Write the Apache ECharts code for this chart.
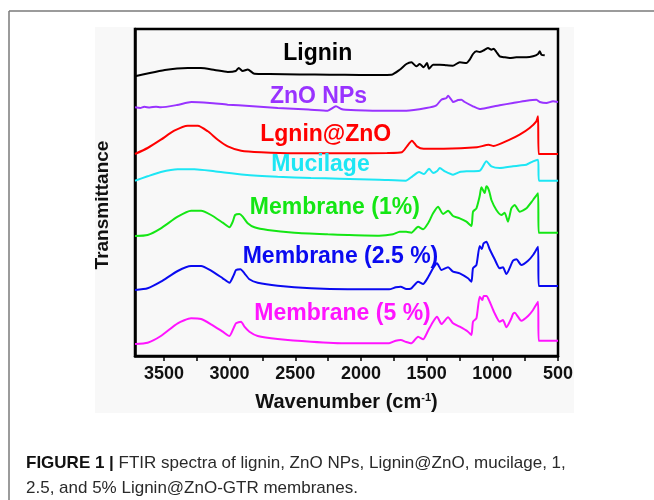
<!DOCTYPE html>
<html>
<head>
<meta charset="utf-8">
<script src="https://cdn.jsdelivr.net/npm/echarts@6/dist/echarts.min.js"></script>
<style>
  html, body { margin: 0; padding: 0; background: #fff; }
  #main { width: 654px; height: 500px; }
</style>
</head>
<body>
<div id="main"></div>
<script>
var myChart = echarts.init(document.getElementById('main'));

// x ticks (wavenumber, cm-1)
var tickLabels = [3500, 3000, 2500, 2000, 1500, 1000, 500];

// curve names as printed on the plot
var names = ['Lignin', 'ZnO NPs', 'Lgnin@ZnO', 'Mucilage', 'Membrane (1%)', 'Membrane (2.5 %)', 'Membrane (5 %)'];

// [wavenumber, offset transmittance (a.u.)]
var lignin = [
  [3720, 279.7], [3607, 283], [3493, 286], [3400, 287.5], [3318, 288], [3219, 288], [3113, 286],
  [3014, 284], [2953, 285], [2930, 288], [2900, 285], [2862, 286.5], [2811, 282.3], [2694, 282],
  [2466, 281.5], [2238, 281.3], [2010, 281], [1768, 281.3], [1705, 286.3], [1654, 292], [1616, 293.7],
  [1578, 289.7], [1553, 292], [1522, 288.7], [1497, 293], [1482, 287.3], [1451, 291.3], [1400, 291.3],
  [1349, 290.7], [1301, 290.3], [1248, 293.7], [1197, 293], [1172, 296.3], [1147, 302], [1121, 304.7],
  [1096, 304], [1071, 305.3], [1033, 308], [1007, 306.3], [989, 307.3], [969, 304], [944, 299.7],
  [906, 298.7], [868, 298], [817, 298.7], [740, 298.7], [690, 299.7], [652, 302], [639, 304.7],
  [626, 301.3], [601, 300.7]
];
var znoNps = [
  [3720, 248.7], [3680, 248], [3650, 249.2], [3607, 248.5], [3560, 249.3], [3525, 248.7], [3400, 251],
  [3290, 254], [3150, 253], [3014, 251.3], [2850, 250], [2633, 248], [2400, 246.5], [2253, 245.3],
  [2190, 249.7], [2150, 247], [2116, 246.3], [1862, 245.3], [1654, 245.3], [1502, 248], [1426, 250.7],
  [1388, 256.3], [1349, 258], [1337, 260.3], [1305, 255], [1299, 254], [1260, 256], [1235, 256.3],
  [1210, 254], [1147, 249.7], [1096, 247], [1045, 248], [944, 250.7], [843, 253], [740, 255.3],
  [664, 256.3], [639, 254], [588, 253], [538, 254.7], [500, 254]
];
var lgZno = [
  [3720, 202], [3624, 208], [3523, 216.3], [3421, 225.3], [3318, 230.3], [3242, 230.3], [3166, 224.7],
  [3090, 216.3], [3014, 209.7], [2912, 205.3], [2760, 203.7], [2506, 202.7], [2100, 202.7], [1800, 203],
  [1689, 203.7], [1650, 209.7], [1612, 215.3], [1574, 209.7], [1523, 207.3], [1370, 207.3], [1117, 208.7],
  [1028, 211.3], [990, 210], [868, 216.3], [792, 221.3], [716, 228], [665, 234.7], [652, 239.7],
  [647, 202], [500, 202]
];
var mucilage = [
  [3720, 175.3], [3624, 179.7], [3523, 184], [3395, 186.7], [3268, 186.7], [3116, 184.7], [2888, 181.3],
  [2634, 179.3], [2380, 178], [2162, 177.3], [1862, 176.3], [1659, 175.3], [1608, 179.7], [1558, 184],
  [1520, 182], [1482, 187.3], [1450, 183], [1420, 185], [1400, 188], [1362, 184.7], [1299, 181.3],
  [1248, 184], [1197, 184.7], [1096, 185.3], [1045, 194.7], [1007, 189.7], [944, 188], [843, 189.7],
  [792, 190.5], [741, 191.3], [690, 194.7], [652, 196.3], [645, 175.3], [500, 175.3]
];
var membrane1 = [
  [3720, 120], [3624, 121], [3523, 127.7], [3395, 139.3], [3293, 145.3], [3217, 145.3], [3141, 141],
  [3052, 133.3], [3001, 128.7], [2976, 134.3], [2958, 141], [2925, 142], [2900, 139.3], [2862, 132.7],
  [2811, 128.7], [2710, 126], [2507, 123.3], [2253, 121.7], [2100, 121], [1862, 120.3], [1756, 121.7],
  [1705, 124.3], [1655, 124.3], [1616, 123.3], [1565, 129.3], [1527, 126.7], [1489, 132.7], [1451, 142.7],
  [1413, 149.3], [1375, 142], [1337, 145.3], [1299, 140], [1248, 137.7], [1197, 134.3], [1159, 130],
  [1147, 144.3], [1121, 147.7], [1096, 160], [1083, 168.7], [1058, 163], [1045, 169.7], [1033, 168],
  [1020, 163], [1007, 156], [969, 146], [931, 141], [906, 143.3], [881, 134.3], [855, 147.7], [830, 151],
  [791, 144.3], [740, 147.7], [690, 156], [652, 162.7], [647, 123.3], [500, 123.3]
];
var membrane25 = [
  [3720, 66], [3624, 67.7], [3523, 74.3], [3395, 85], [3293, 90], [3217, 90], [3141, 85.3], [3052, 77.7],
  [3001, 73.3], [2968, 81], [2951, 86], [2917, 86.7], [2887, 82.7], [2849, 76.7], [2786, 73.3],
  [2634, 70.3], [2380, 67.7], [2100, 66.7], [1786, 66.7], [1735, 68.7], [1697, 69.3], [1655, 67],
  [1616, 67.7], [1565, 74.3], [1527, 72], [1489, 78.7], [1451, 87.7], [1421, 92.7], [1387, 86],
  [1337, 88.7], [1299, 84.3], [1248, 82.7], [1185, 77.7], [1159, 74.3], [1147, 87.7], [1121, 91],
  [1096, 110], [1080, 107], [1066, 112.7], [1045, 114.3], [1020, 106.7], [982, 96.7], [944, 87.7],
  [919, 88.7], [893, 82], [843, 95.3], [817, 96.7], [779, 91], [728, 95.3], [690, 101], [652, 109.3],
  [647, 70], [500, 70]
];
var membrane5 = [
  [3720, 12], [3624, 13.3], [3523, 20], [3395, 32.7], [3293, 37.7], [3217, 37], [3141, 31.7], [3052, 24.3],
  [3001, 20], [2968, 28.3], [2951, 32.7], [2913, 34.3], [2887, 29.3], [2849, 24.3], [2786, 20],
  [2634, 17], [2380, 14.3], [2100, 12.7], [1786, 12.7], [1735, 15.3], [1697, 16], [1655, 14],
  [1616, 12.7], [1565, 19.3], [1527, 16.7], [1489, 25.3], [1451, 34.3], [1421, 39.3], [1387, 32],
  [1337, 38.7], [1299, 32.7], [1248, 29.3], [1185, 24.3], [1159, 21], [1147, 34.3], [1121, 37.7],
  [1096, 59.3], [1076, 56], [1066, 60], [1045, 60], [1020, 54.3], [982, 42.7], [944, 34.3], [919, 36],
  [893, 28.7], [855, 37.7], [843, 42], [830, 43.3], [779, 35.3], [728, 40], [690, 46], [652, 54.3],
  [647, 15.3], [500, 15.3]
];

var curves = [lignin, znoNps, lgZno, mucilage, membrane1, membrane25, membrane5];
var colors = ['#000000', '#9933ff', '#ff0000', '#1de6f4', '#14e614', '#0a0af0', '#ff14ff'];
// where each name sits, in data units
var labelAt = [[2329, 302], [2323, 259.7], [2268, 221.3], [2308, 191.3], [2199, 148.7], [2156, 99.3], [2140, 42]];

var series = curves.map(function (d, i) {
  return {
    name: names[i],
    type: 'line',
    data: d,
    showSymbol: false,
    symbol: 'none',
    smooth: 0.2,
    lineStyle: { color: colors[i], width: 2 },
    markPoint: {
      symbol: 'circle',
      symbolSize: 1,
      itemStyle: { color: 'rgba(0,0,0,0)' },
      label: {
        show: true,
        position: 'inside',
        formatter: names[i],
        color: colors[i],
        fontSize: 23,
        fontWeight: 'bold',
        fontFamily: 'Liberation Sans, Arial'
      },
      data: [{ coord: labelAt[i] }]
    }
  };
});

myChart.setOption({
  animation: false,
  backgroundColor: '#ffffff',
  graphic: [
    { type: 'rect', z: -10, shape: { x: 95, y: 27, width: 479, height: 386 }, style: { fill: '#f8f8f8' } },
    { type: 'line', shape: { x1: 9, y1: 11, x2: 654, y2: 11 }, style: { stroke: '#7a7a7a', lineWidth: 1.5 } },
    { type: 'line', shape: { x1: 9, y1: 11, x2: 9, y2: 500 }, style: { stroke: '#7a7a7a', lineWidth: 1.5 } },
    {
      type: 'text', x: 103, y: 205, rotation: Math.PI / 2,
      style: {
        text: 'Transmittance', fill: '#111', fontSize: 19, fontWeight: 'bold',
        fontFamily: 'Liberation Sans, Arial', align: 'center', verticalAlign: 'middle'
      }
    },
    {
      type: 'text', x: 26, y: 451,
      style: {
        text: '{b|FIGURE 1 |} FTIR spectra of lignin, ZnO NPs, Lignin@ZnO, mucilage, 1,\n2.5, and 5% Lignin@ZnO-GTR membranes.',
        fill: '#2a2a2a', fontSize: 17, lineHeight: 25,
        fontFamily: 'Liberation Sans, Arial',
        rich: {
          b: { fontWeight: 'bold', fontSize: 17, fill: '#111', fontFamily: 'Liberation Sans, Arial', lineHeight: 25 }
        }
      }
    }
  ],
  grid: {
    left: 135, right: 96, top: 29, bottom: 144,
    show: true, borderColor: '#000', borderWidth: 2.5, backgroundColor: 'transparent'
  },
  xAxis: {
    type: 'value',
    inverse: true,
    min: 500,
    max: 3720,
    interval: 250,
    name: '{a|Wavenumber (cm}{s|-1}{a|)}',
    nameLocation: 'middle',
    nameGap: 36,
    nameTextStyle: {
      rich: {
        a: { fontSize: 20, fontWeight: 'bold', color: '#111', fontFamily: 'Liberation Sans, Arial' },
        s: { fontSize: 11, fontWeight: 'bold', color: '#111', fontFamily: 'Liberation Sans, Arial', verticalAlign: 'top', padding: [0, 0, 8, 0] }
      }
    },
    axisLine: { lineStyle: { color: '#000', width: 2.5 } },
    axisTick: { show: true, length: 5, lineStyle: { color: '#000', width: 1.5 } },
    axisLabel: {
      margin: 9,
      fontSize: 18,
      fontWeight: 'bold',
      color: '#111',
      fontFamily: 'Liberation Sans, Arial',
      showMaxLabel: false,
      formatter: function (v) {
        return tickLabels.indexOf(v) >= 0 ? String(v) : '';
      }
    },
    splitLine: { show: false }
  },
  yAxis: {
    type: 'value',
    min: 0,
    max: 327,
    axisLine: { show: true, lineStyle: { color: '#000', width: 2.5 } },
    axisTick: { show: false },
    axisLabel: { show: false },
    splitLine: { show: false }
  },
  series: series
});
</script>
</body>
</html>
